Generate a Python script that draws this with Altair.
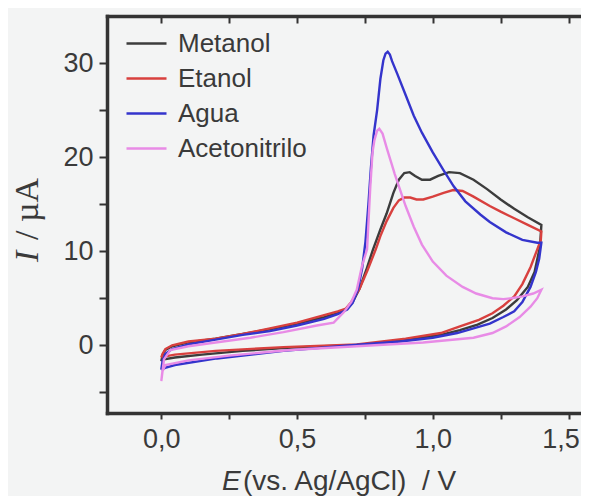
import altair as alt
import pandas as pd

# ---------------- data ----------------
series = ["Metanol", "Etanol", "Agua", "Acetonitrilo"]
colors = ["#3c3c3c", "#d8403e", "#3434cc", "#e88be6"]

metanol_E = [0.000, 0.010, 0.050, 0.150, 0.300, 0.450, 0.600, 0.720, 0.850, 0.950, 1.030, 1.100, 1.165, 1.220, 1.270, 1.310, 1.350, 1.375, 1.395, 1.400,
             1.350, 1.300, 1.250, 1.200, 1.150, 1.100, 1.060, 1.020, 0.990, 0.960, 0.935, 0.915, 0.895, 0.875, 0.855, 0.830, 0.807, 0.780, 0.755,
             0.730, 0.705, 0.680, 0.650, 0.600, 0.500, 0.400, 0.300, 0.200, 0.100, 0.040, 0.015, 0.005, 0.000]
metanol_I = [-1.7, -1.5, -1.3, -1.0, -0.6, -0.3, -0.1, 0.0, 0.4, 0.8, 1.1, 1.6, 2.2, 2.9, 3.8, 4.8, 6.2, 7.8, 10.5, 12.8,
             13.6, 14.5, 15.5, 16.6, 17.6, 18.3, 18.4, 18.0, 17.6, 17.6, 18.0, 18.4, 18.3, 17.6, 16.2, 14.0, 12.3, 10.2, 8.0,
             6.0, 4.6, 3.8, 3.4, 3.0, 2.3, 1.7, 1.2, 0.7, 0.3, -0.1, -0.5, -1.0, -1.7]

etanol_E = [0.000, 0.010, 0.050, 0.200, 0.450, 0.720, 0.900, 1.030, 1.100, 1.170, 1.220, 1.260, 1.300, 1.330, 1.360, 1.385, 1.398, 1.400,
            1.350, 1.300, 1.250, 1.210, 1.150, 1.110, 1.075, 1.040, 1.000, 0.965, 0.940, 0.917, 0.895, 0.875, 0.855, 0.830, 0.807, 0.790,
            0.760, 0.730, 0.700, 0.680, 0.650, 0.600, 0.500, 0.400, 0.300, 0.200, 0.100, 0.040, 0.015, 0.005, 0.000]
etanol_I = [-1.3, -1.2, -1.0, -0.6, -0.2, 0.1, 0.7, 1.3, 2.0, 2.7, 3.4, 4.2, 5.2, 6.5, 8.3, 10.2, 11.2, 12.1,
            12.8, 13.5, 14.2, 14.8, 15.8, 16.4, 16.5, 16.2, 15.8, 15.5, 15.5, 15.7, 15.7, 15.4, 14.6, 13.2, 11.6, 10.2,
            8.0, 6.0, 4.6, 3.9, 3.6, 3.2, 2.4, 1.8, 1.2, 0.7, 0.4, 0.0, -0.4, -0.9, -1.3]

agua_E = [0.000, 0.014, 0.050, 0.205, 0.450, 0.700, 0.880, 1.000, 1.090, 1.150, 1.210, 1.260, 1.300, 1.330, 1.360, 1.380, 1.392, 1.400,
          1.385, 1.330, 1.270, 1.210, 1.175, 1.120, 1.077, 1.040, 1.000, 0.960, 0.930, 0.900, 0.870, 0.850, 0.842, 0.834, 0.826, 0.818,
          0.807, 0.795, 0.782, 0.772, 0.763, 0.752, 0.740, 0.725, 0.705, 0.685, 0.650, 0.600, 0.500, 0.400, 0.300, 0.200, 0.100,
          0.040, 0.015, 0.005, 0.000]
agua_I = [-2.6, -2.4, -2.1, -1.4, -0.6, 0.0, 0.4, 0.8, 1.3, 1.8, 2.3, 3.0, 3.6, 4.6, 6.2, 7.8, 9.2, 10.9,
          10.9, 11.2, 12.0, 13.1, 13.9, 15.3, 16.9, 18.6, 20.5, 22.6, 24.4, 26.6, 28.8, 30.2, 30.9, 31.2, 31.0, 30.3,
          28.3, 25.0, 22.3, 18.8, 15.0, 11.0, 8.2, 6.0, 4.5, 3.8, 3.3, 2.8, 2.1, 1.5, 1.1, 0.6, 0.1,
          -0.4, -0.9, -1.6, -2.6]

aceto_E = [0.000, 0.004, 0.015, 0.100, 0.250, 0.475, 0.720, 0.965, 1.150, 1.220, 1.270, 1.320, 1.360, 1.385, 1.400,
           1.370, 1.330, 1.290, 1.260, 1.220, 1.160, 1.110, 1.050, 1.000, 0.960, 0.930, 0.900, 0.880, 0.860, 0.845, 0.830,
           0.815, 0.803, 0.795, 0.785, 0.778, 0.770, 0.758, 0.739, 0.720, 0.700, 0.672, 0.635, 0.573, 0.450, 0.328, 0.200,
           0.100, 0.033, 0.010, 0.000]
aceto_I = [-3.8, -2.8, -2.1, -1.6, -1.1, -0.5, -0.1, 0.3, 0.8, 1.3, 2.0, 3.0, 4.1, 5.0, 5.9,
           5.5, 5.2, 5.0, 4.9, 5.0, 5.5, 6.2, 7.4, 8.9, 10.7, 12.6, 14.8, 16.5, 18.2, 19.6, 21.0,
           22.5, 23.0, 22.8, 21.8, 20.5, 16.9, 10.2, 8.4, 5.9, 4.6, 3.5, 2.4, 2.1, 1.4, 0.8, 0.3,
           -0.1, -0.5, -1.5, -3.8]

x_ticks = [0.0, 0.25, 0.5, 0.75, 1.0, 1.25, 1.5]
y_ticks = [-5, 0, 5, 10, 15, 20, 25, 30]
x_title_italic = ["E"]
x_title_rest = ["(vs. Ag/AgCl)\u00a0\u00a0/ V"]
y_title_italic = ["I"]
y_title_rest = ["/ µA"]

# ---------------- table ----------------
rows = []
for name, Es, Is in [("Metanol", metanol_E, metanol_I), ("Etanol", etanol_E, etanol_I),
                     ("Agua", agua_E, agua_I), ("Acetonitrilo", aceto_E, aceto_I)]:
    for k, (e, i) in enumerate(zip(Es, Is)):
        rows.append({"serie": name, "E": e, "I": i, "k": k})
df = pd.DataFrame(rows)

X_DOM = [-0.2, 1.546]
Y_DOM = [-7.2, 35.0]
TXT = "#3a3a3a"
FRAME = "#333333"
SANS = "Liberation Sans"
SERIF = "Liberation Serif"


def xs():
    return alt.Scale(domain=X_DOM, nice=False, zero=False)


def ys():
    return alt.Scale(domain=Y_DOM, nice=False, zero=False)


lines = alt.Chart(df).mark_line(strokeWidth=2.4, clip=True).encode(
    x=alt.X("E:Q", scale=xs(),
            axis=alt.Axis(orient="bottom", values=x_ticks, title=None, grid=False,
                          domain=True, domainWidth=3.5, domainColor=FRAME, domainCap="square",
                          tickSize=6, tickWidth=2, tickColor=FRAME,
                          labelExpr="datum.value % 0.5 == 0 ? replace(format(datum.value, '.1f'), '.', ',') : ''",
                          labelOffset={"condition": {"test": "datum.value == 1.5", "value": -8}, "value": 0},
                          labelFont=SANS, labelFontSize=27, labelColor=TXT, labelPadding=7)),
    y=alt.Y("I:Q", scale=ys(),
            axis=alt.Axis(orient="left", values=y_ticks, title=None, grid=False,
                          domain=True, domainWidth=3.5, domainColor=FRAME, domainCap="square",
                          tickSize=8, tickWidth=2, tickColor=FRAME,
                          labelExpr="datum.value % 10 == 0 ? format(datum.value, 'd') : ''",
                          labelFont=SANS, labelFontSize=27, labelColor=TXT, labelPadding=6)),
    color=alt.Color("serie:N", scale=alt.Scale(domain=series, range=colors),
                    legend=alt.Legend(title=None, orient="none", legendX=18, legendY=6,
                                      symbolType="stroke", symbolSize=1600, symbolStrokeWidth=2.5,
                                      labelFont=SANS, labelFontSize=26, labelColor=TXT,
                                      labelOffset=10, rowPadding=-9.5, padding=0, labelLimit=300)),
    order="k:Q",
)

# inward ticks on the top edge
ticks_top = alt.Chart(df).mark_line(opacity=0).encode(
    x=alt.X("E:Q", scale=xs(),
            axis=alt.Axis(orient="top", values=x_ticks, title=None, grid=False, domain=False, labels=False,
                          tickSize=7, tickWidth=2, tickColor=FRAME, offset=-7)),
    y=alt.Y("I:Q", scale=ys(), axis=None),
    detail="serie:N",
    order="k:Q",
)

# top frame line
frame_top = alt.Chart(df).mark_line(opacity=0).encode(
    x=alt.X("E:Q", scale=xs(),
            axis=alt.Axis(orient="top", title=None, grid=False, labels=False, ticks=False,
                          domain=True, domainWidth=3.5, domainColor=FRAME, domainCap="square")),
    y=alt.Y("I:Q", scale=ys(), axis=None),
    detail="serie:N",
    order="k:Q",
)

xt1 = alt.Chart(pd.DataFrame({"t": x_title_italic})).mark_text(
    font=SANS, fontSize=28, fontStyle="italic", color=TXT, align="left", baseline="alphabetic"
).encode(text="t:N", x=alt.value(115), y=alt.value(474))
xt2 = alt.Chart(pd.DataFrame({"t": x_title_rest})).mark_text(
    font=SANS, fontSize=28, color=TXT, align="left", baseline="alphabetic"
).encode(text="t:N", x=alt.value(136), y=alt.value(474))
yt1 = alt.Chart(pd.DataFrame({"t": y_title_italic})).mark_text(
    font=SERIF, fontSize=34, fontStyle="italic", color=TXT, align="left", baseline="middle", angle=270
).encode(text="t:N", x=alt.value(-79), y=alt.value(246))
yt2 = alt.Chart(pd.DataFrame({"t": y_title_rest})).mark_text(
    font=SERIF, fontSize=34, color=TXT, align="left", baseline="middle", angle=270
).encode(text="t:N", x=alt.value(-79), y=alt.value(224))

chart = alt.layer(lines, ticks_top, frame_top, xt1, xt2, yt1, yt2).resolve_scale(
    x="independent", y="independent"
).properties(
    width=474, height=397,
    autosize=alt.AutoSizeParams(type="none"),
    padding={"left": 99, "top": 8, "right": 0, "bottom": 83},
).configure(background="#f3f4f4").configure_view(strokeWidth=0)

chart.save("out.html", embed_options={"renderer": "svg", "actions": False})
